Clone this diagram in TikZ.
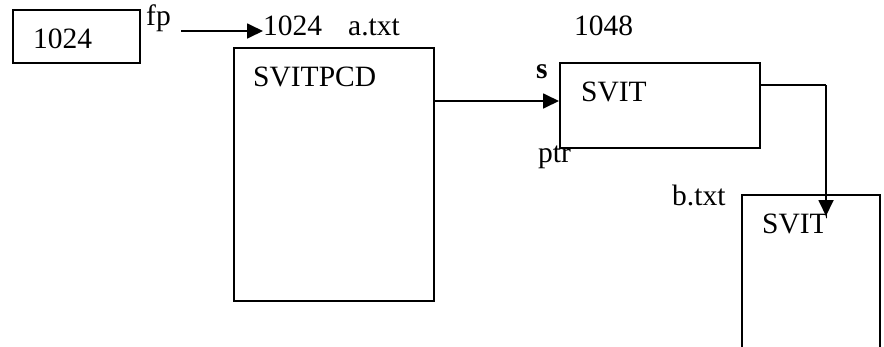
\documentclass[tikz,border=0pt]{standalone}
\usepackage{fontspec}
\setmainfont{Liberation Serif}
\usetikzlibrary{arrows.meta}
\begin{document}
\begin{tikzpicture}[x=1pt,y=-1pt,
  box/.style={draw,line width=1.8pt,inner sep=0pt,anchor=north west},
  lbl/.style={inner sep=0pt,anchor=base west,font=\fontsize{29.5}{32}\selectfont},
  arr/.style={line width=1.8pt,-{Triangle[length=16pt,width=15pt]}},
  con/.style={line width=1.8pt}]
\clip (0,0) rectangle (884,346);
\fill[white] (0,0) rectangle (884,346);
% boxes
\node[box,minimum width=127pt,minimum height=53pt] (fpbox) at (12,9) {};
\node[box,minimum width=200pt,minimum height=253pt] (big) at (233,47) {};
\node[box,minimum width=200pt,minimum height=85pt] (svit) at (559,62) {};
\node[box,minimum width=138pt,minimum height=180pt] (bbox) at (741,194) {};
% texts
\node[lbl] (t1024a) at (33,48) {1024};
\node[lbl] (fp) at (146,25) {fp};
\node[lbl] (t1024b) at (263,35) {1024};
\node[lbl] (atxt) at (348,35) {a.txt};
\node[lbl] (svitpcd) at (253,86) {SVITPCD};
\node[lbl] (t1048) at (574,35) {1048};
\node[lbl,font=\fontsize{29.5}{32}\selectfont\bfseries] (s) at (536,78) {s};
\node[lbl] (svit1) at (581,101) {SVIT};
\node[lbl] (ptr) at (538,162) {ptr};
\node[lbl] (btxt) at (672,205) {b.txt};
\node[lbl] (svit2) at (762,233) {SVIT};
% connectors
\coordinate (fpstart) at (181,31);
\coordinate (fpend) at (263,31);
\draw[arr] (fpstart) -- (fpend);
\coordinate (a1) at (0,101);
\draw[arr] (big.east |- a1) -- (svit.west |- a1);
\coordinate (c1) at (826,85);
\coordinate (tip) at (826,216);
\draw[con] (svit.east |- c1) -- (c1);
\draw[arr] (c1) -- (tip);
\end{tikzpicture}
\end{document}
